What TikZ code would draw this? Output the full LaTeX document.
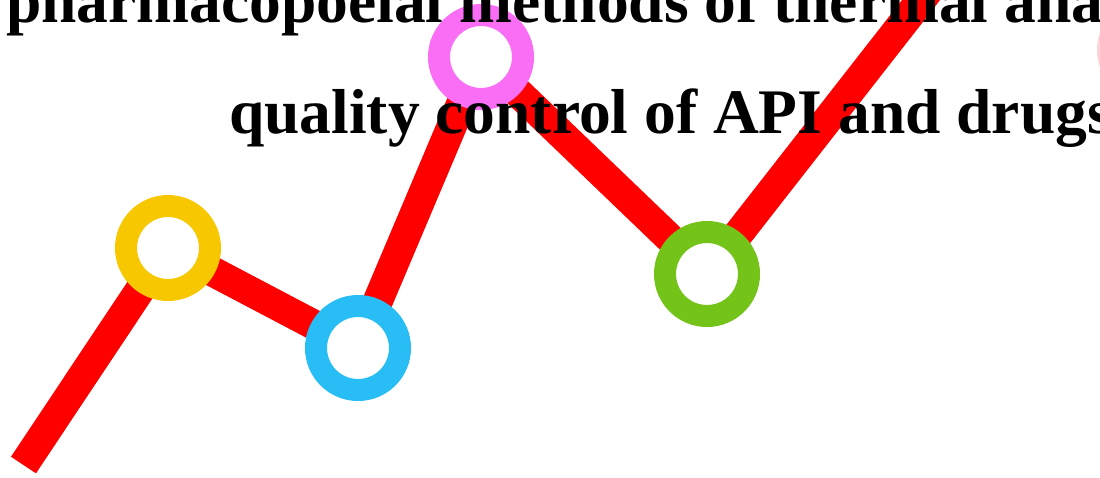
\documentclass[tikz,border=0pt]{standalone}
\usepackage{fontspec}
\setmainfont{Liberation Serif}
\usetikzlibrary{backgrounds}
\definecolor{ringyellow}{RGB}{247,200,0}
\definecolor{ringblue}{RGB}{40,190,245}
\definecolor{ringpink}{RGB}{250,110,245}
\definecolor{ringgreen}{RGB}{115,195,25}
\definecolor{faintpink}{RGB}{255,210,215}
\begin{document}
\begin{tikzpicture}[x=1pt,y=-1pt,
  ring/.style={circle,draw=#1,fill=white,line width=22pt,minimum size=84pt,inner sep=0pt},
  trend/.style={draw=red,line width=30pt,line cap=butt,line join=miter},
  title/.style={anchor=base west,inner sep=0pt,font=\fontsize{63.5}{70}\selectfont\bfseries}]
\useasboundingbox (0,0) rectangle (1100,477);
\clip (0,0) rectangle (1100,477);
\coordinate (start) at (23.5,465);
\node[ring=ringyellow] (y) at (168,248) {};
\node[ring=ringblue] (b) at (358,348) {};
\node[ring=ringpink] (p) at (481,57) {};
\node[ring=ringgreen] (g) at (707,274) {};
\node[ring=faintpink] (f) at (1150,50) {};
\coordinate (end) at (964,-55);
\begin{pgfonlayer}{background}
\draw[trend] (start) -- (y.center) -- (b.center) -- (p.center) -- (g.center) -- (end);
\end{pgfonlayer}
\node[title] (t1) at (6,22) {pharmacopoeial methods of thermal analysis};
\node[title] (t2) at (229,133) {quality control of API and drugs};
\end{tikzpicture}
\end{document}
